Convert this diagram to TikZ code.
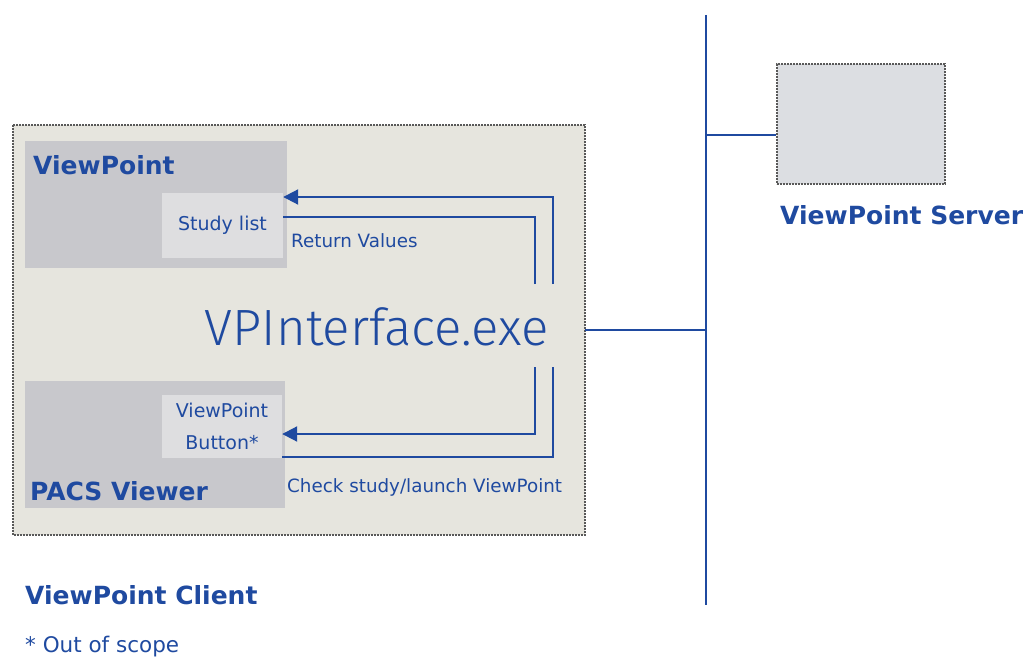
\documentclass[tikz,border=0pt]{standalone}
\usepackage{fontspec}
\setmainfont{DejaVu Sans}
\newfontfamily\thinfont{Fira Sans Light}
\usetikzlibrary{arrows.meta}
\definecolor{vpblue}{HTML}{1F4AA0}
\definecolor{clientbg}{HTML}{E6E5DE}
\definecolor{appbg}{HTML}{C8C8CC}
\definecolor{itembg}{HTML}{DEDEE0}
\definecolor{serverbg}{HTML}{DCDEE2}
\tikzset{
  frame/.style={draw=black!65, dash pattern=on 1.6pt off 1.4pt, line width=1.8pt},
  app/.style={fill=appbg, draw=none},
  item/.style={fill=itembg, draw=none, text=vpblue, align=center, inner sep=0pt},
  title/.style={text=vpblue, font=\bfseries\fontsize{25}{28}\selectfont, anchor=west, inner sep=0pt},
  note/.style={text=vpblue, font=\fontsize{18.3}{20}\selectfont, anchor=west, inner sep=0pt},
  wire/.style={draw=vpblue, line width=2pt},
  call/.style={wire, -{Triangle[length=15pt, width=15pt]}}
}
\begin{document}
\begin{tikzpicture}[x=1pt, y=-1pt]
  \useasboundingbox (0,0) rectangle (1024,660);
  % client side
  \draw[frame, fill=clientbg] (13,125) rectangle (585,535);
  \fill[app] (25,141) rectangle (287,268);
  \fill[app] (25,381) rectangle (285,508);
  \node[item, minimum width=121pt, minimum height=65pt, font=\fontsize{19}{24}\selectfont]
    (list) at (222.5,225.5) {Study list};
  \node[item, minimum width=120pt, minimum height=63pt, font=\fontsize{19}{32}\selectfont]
    (btn) at (222,426.5) {ViewPoint\\Button*};
  \node[title] (vp) at (33,165) {ViewPoint};
  \node[title] (pacs) at (30,491) {PACS Viewer};
  \node[text=vpblue, font=\thinfont\fontsize{51}{55}\selectfont, inner sep=0pt]
    (exe) at (377,327) {VPInterface.exe};
  \node[note] (ret) at (291,241) {Return Values};
  \node[note] (chk) at (287,487) {Check study/launch ViewPoint};
  \coordinate (r1) at (553,284);
  \coordinate (r2) at (535,284);
  \coordinate (c1) at (535,367);
  \coordinate (c2) at (553,367);
  % arrows
  \begin{scope}
    \draw[call] (r1) |- (list.east |- 0,197);
    \draw[wire] (r2) |- (list.east |- 0,217);
    \draw[call] (c1) |- (btn.east |- 0,434);
    \draw[wire] (c2) |- (btn.east |- 0,457);
  \end{scope}
  % network side
  \coordinate (top) at (706,15);
  \coordinate (bot) at (706,605);
  \node[frame, fill=serverbg, minimum width=168pt, minimum height=120pt]
    (srv) at (861,124) {};
  \node[title] (srvname) at (780,215) {ViewPoint Server};
  \node[title] (cli) at (25,595) {ViewPoint Client};
  \node[note, font=\fontsize{21.5}{24}\selectfont] (foot) at (25,647) {* Out of scope};
  \begin{scope}
    \draw[wire] (top) -- (bot);
    \draw[wire] (585,330) -- (706,330);
    \draw[wire] (706,135) -- (srv.west |- 0,135);
  \end{scope}
\end{tikzpicture}
\end{document}
